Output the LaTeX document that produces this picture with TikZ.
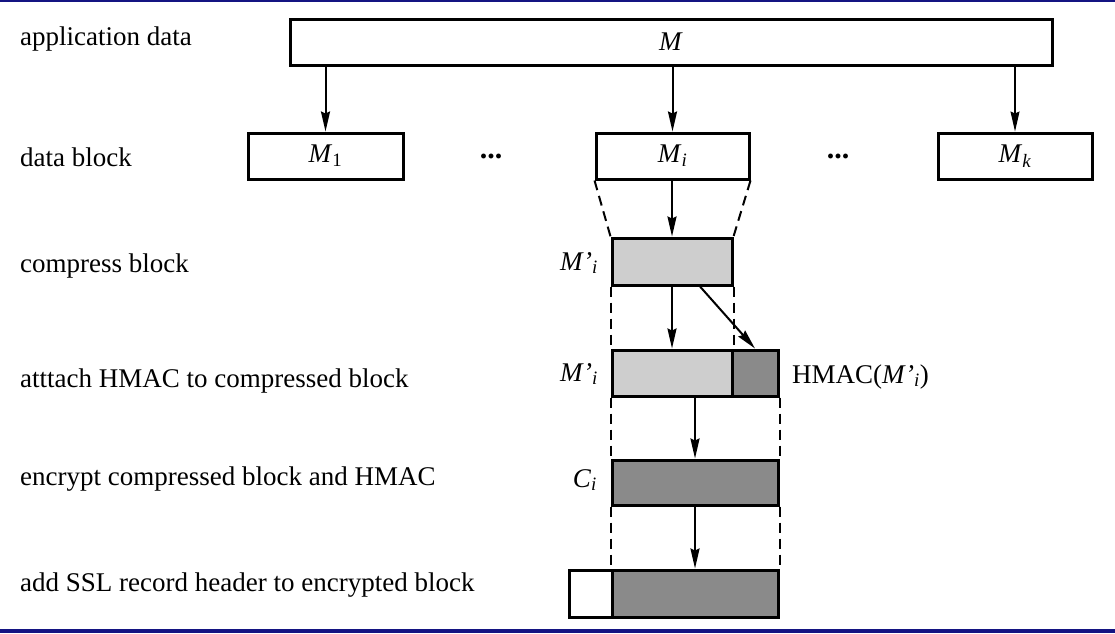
\documentclass[tikz,border=0pt]{standalone}
\usepackage{fontspec}
\setmainfont{Liberation Serif}
\usetikzlibrary{arrows.meta,calc}
\definecolor{lightfill}{RGB}{206,206,206}
\definecolor{darkfill}{RGB}{138,138,138}
\definecolor{frameblue}{RGB}{20,20,130}
\newcommand{\Mi}[1]{\textit{M}\textsubscript{#1}}
\newcommand{\Mp}{\textit{M\kern0.5pt\textquoteright}\textsubscript{\textit{i}}}
\begin{document}
\begin{tikzpicture}[x=1pt,y=-1pt,
  font=\fontsize{27}{31}\selectfont,
  blk/.style={draw,line width=3pt,rectangle,inner sep=0pt,minimum height=46pt},
  arr/.style={line width=2pt,-{Stealth[length=20pt,width=9pt,inset=2pt]}},
  thinarr/.style={line width=1.2pt,-{Stealth[length=20pt,width=9pt,inset=2pt]}},
  dsh/.style={line width=2pt,dash pattern=on 10pt off 6pt},
  lbl/.style={anchor=base west,inner sep=0pt},
  dots/.style={anchor=base,inner sep=0pt,font=\fontsize{30}{34}\selectfont\bfseries}]
\useasboundingbox (0,0) rectangle (1115,633);
\fill[frameblue] (0,0) rectangle (1115,2);
\fill[frameblue] (0,629) rectangle (1115,633);

% left labels
\node[lbl] (l1) at (20,45) {application data};
\node[lbl] (l2) at (20,166) {data block};
\node[lbl] (l3) at (20,272) {compress block};
\node[lbl] (l4) at (20,387) {atttach HMAC to compressed block};
\node[lbl] (l5) at (20,485) {encrypt compressed block and HMAC};
\node[lbl] (l6) at (20,591) {add SSL record header to encrypted block};

% boxes
\node[blk,minimum width=762pt] (M) at (671,42) {\textit{M}};
\node[blk,minimum width=155pt] (M1) at (325.5,156) {\Mi{1}};
\node[blk,minimum width=153pt] (Mi) at (672.5,156) {\Mi{\textit{i}}};
\node[blk,minimum width=154pt] (Mk) at (1015,156) {\Mi{\textit{k}}};
\node[dots] (d1) at (491,158) {...};
\node[dots] (d2) at (838,158) {...};

\node[blk,fill=lightfill,minimum width=120pt,minimum height=47pt] (comp) at (672,261.5) {};
\node[blk,fill=lightfill,minimum width=120pt] (hm1) at (672,373) {};
\node[blk,fill=darkfill,minimum width=46pt] (hm2) at (755,373) {};
\node[blk,fill=darkfill,minimum width=166pt,minimum height=45pt] (Ci) at (695,482.5) {};
\node[blk,fill=white,minimum width=43pt,minimum height=47pt] (hdr) at (590.5,593.5) {};
\node[blk,fill=darkfill,minimum width=166pt,minimum height=47pt] (enc) at (695,593.5) {};

% side labels
\node[anchor=base east,inner sep=0pt] (lp1) at (598,270) {\Mp};
\node[anchor=base east,inner sep=0pt] (lp2) at (598,381) {\Mp};
\node[anchor=base east,inner sep=0pt] (lc) at (597,487) {\textit{C}\textsubscript{\textit{i}}};
\node[anchor=base west,inner sep=0pt] (lh) at (792,383) {HMAC(\Mp)};

% arrows
\draw[arr] (M.south -| M1.north) -- (M1.north);
\draw[arr] (M.south -| Mi.north) -- (Mi.north);
\draw[thinarr] (M.south -| Mk.north) -- (Mk.north);
\draw[arr] (Mi.south -| comp.north) -- (comp.north);
\draw[arr] (comp.south) -- (comp.south |- hm1.north);
\draw[arr] ($(comp.south)+(28,0)$) -- (hm2.north);
\draw[arr] (hm1.south -| Ci.north) -- (Ci.north);
\draw[arr] (Ci.south) -- (enc.north);

% dashed guides
\draw[dsh] (Mi.south west) -- (comp.north west);
\draw[dsh] (Mi.south east) -- (comp.north east);
\draw[dsh] (comp.south west) -- (hm1.north west);
\draw[dsh] (comp.south east) -- (hm1.north east);
\draw[dsh] (hm1.south west) -- (Ci.north west);
\draw[dsh] (hm2.south east) -- (Ci.north east);
\draw[dsh] (Ci.south west) -- (enc.north west);
\draw[dsh] (Ci.south east) -- (enc.north east);
\end{tikzpicture}
\end{document}
